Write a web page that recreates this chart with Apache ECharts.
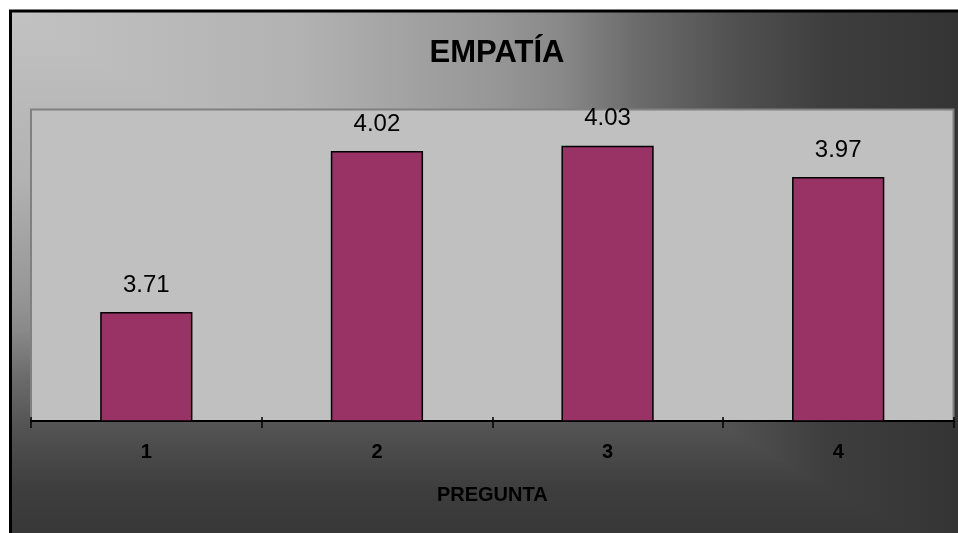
<!DOCTYPE html>
<html>
<head>
<meta charset="utf-8">
<script src="https://cdn.jsdelivr.net/npm/echarts@6/dist/echarts.min.js"></script>
<style>
  html, body { margin: 0; padding: 0; background: #ffffff; }
  #chart { width: 958px; height: 533px; }
</style>
</head>
<body>
<div id="chart"></div>
<script>
// Question numbers and their mean scores
const categories = ['1', '2', '3', '4'];
const values = [3.71, 4.02, 4.03, 3.97];
const chartTitle = 'EMPATÍA';
const axisTitle = 'PREGUNTA';

const FONT = 'Arial, "Liberation Sans", sans-serif';

// Frame region and its corner-shaded fill
const frame = { x: 12, y: 12, w: 960, h: 560 };
const shadeStops = [
  { offset: 0.00, color: '#c2c2c2' },
  { offset: 0.30, color: '#b2b2b2' },
  { offset: 0.40, color: '#a4a4a4' },
  { offset: 0.50, color: '#979797' },
  { offset: 0.57, color: '#898989' },
  { offset: 0.65, color: '#6c6c6c' },
  { offset: 0.75, color: '#515151' },
  { offset: 0.85, color: '#3e3e3e' },
  { offset: 1.00, color: '#333333' }
];

const chart = echarts.init(document.getElementById('chart'), null, { renderer: 'canvas' });

chart.setOption({
  animation: false,
  backgroundColor: '#ffffff',
  graphic: [
    {
      // vertical shading over the whole frame
      type: 'rect', z: -10, silent: true,
      shape: { x: frame.x, y: frame.y, width: frame.w, height: frame.h },
      style: { fill: new echarts.graphic.LinearGradient(0, 0, 0, 1, shadeStops) }
    },
    {
      // horizontal shading over the upper-right half
      type: 'polygon', z: -9, silent: true,
      shape: { points: [[frame.x, frame.y], [frame.x + frame.w, frame.y], [frame.x + frame.w, frame.y + frame.h]] },
      style: { fill: new echarts.graphic.LinearGradient(0, 0, 1, 0, shadeStops) }
    },
    {
      // black frame
      type: 'rect', z: -8, silent: true,
      shape: { x: 10.5, y: 11, width: 980, height: 580 },
      style: { fill: 'none', stroke: '#000000', lineWidth: 3 }
    }
  ],
  title: {
    text: chartTitle,
    left: 492,
    top: 33,
    textAlign: 'center',
    textStyle: { fontFamily: FONT, fontSize: 31, fontWeight: 'bold', color: '#000000' }
  },
  grid: {
    show: true,
    left: 31,
    right: 4.5,
    top: 109.5,
    bottom: 112,
    backgroundColor: '#c0c0c0',
    borderColor: '#808080',
    borderWidth: 2
  },
  xAxis: [
    {
      type: 'category',
      data: categories,
      position: 'bottom',
      boundaryGap: true,
      axisLine: { show: true, lineStyle: { color: '#000000', width: 2 } },
      axisTick: { show: true, inside: false, length: 7, lineStyle: { color: '#000000', width: 1.5 } },
      axisLabel: { fontFamily: FONT, fontSize: 20, fontWeight: 'bold', color: '#000000', margin: 21 },
      name: axisTitle,
      nameLocation: 'middle',
      nameGap: 64,
      nameTextStyle: { fontFamily: FONT, fontSize: 20, fontWeight: 'bold', color: '#000000' },
      splitLine: { show: false }
    },
    {
      // short inner half of the crossing tick marks
      type: 'category',
      data: categories,
      position: 'bottom',
      boundaryGap: true,
      axisLine: { show: false },
      axisTick: { show: true, inside: true, length: 4, lineStyle: { color: '#000000', width: 1.5 } },
      axisLabel: { show: false },
      splitLine: { show: false }
    }
  ],
  yAxis: {
    type: 'value',
    min: 3.5,
    max: 4.1,
    show: false
  },
  series: [
    {
      type: 'bar',
      xAxisIndex: 0,
      data: values,
      barWidth: '40%',
      itemStyle: { color: '#993366', borderColor: '#000000', borderWidth: 1.5 },
      label: {
        show: true,
        position: 'top',
        distance: 15,
        fontFamily: FONT,
        fontSize: 24,
        color: '#000000',
        formatter: p => p.value.toFixed(2)
      }
    }
  ]
});
</script>
</body>
</html>
